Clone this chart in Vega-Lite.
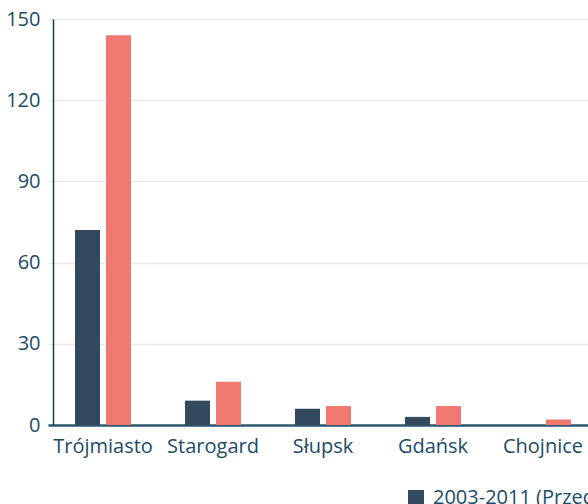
{
  "$schema": "https://vega.github.io/schema/vega-lite/v6.json",
  "autosize": "none",
  "padding": {"left": 53, "top": 19, "right": 0, "bottom": 79},
  "width": 535,
  "height": 406,
  "background": "#ffffff",
  "data": {
    "values": [
      {"miasto": "Trójmiasto", "okres": "2003-2011 (Przed reformą)", "liczba": 72},
      {"miasto": "Trójmiasto", "okres": "2012-2020 (Po reformie)", "liczba": 144},
      {"miasto": "Starogard", "okres": "2003-2011 (Przed reformą)", "liczba": 9},
      {"miasto": "Starogard", "okres": "2012-2020 (Po reformie)", "liczba": 16},
      {"miasto": "Słupsk", "okres": "2003-2011 (Przed reformą)", "liczba": 6},
      {"miasto": "Słupsk", "okres": "2012-2020 (Po reformie)", "liczba": 7},
      {"miasto": "Gdańsk", "okres": "2003-2011 (Przed reformą)", "liczba": 3},
      {"miasto": "Gdańsk", "okres": "2012-2020 (Po reformie)", "liczba": 7},
      {"miasto": "Chojnice", "okres": "2003-2011 (Przed reformą)", "liczba": 0},
      {"miasto": "Chojnice", "okres": "2012-2020 (Po reformie)", "liczba": 2}
    ]
  },
  "mark": {"type": "bar"},
  "encoding": {
    "x": {
      "field": "miasto",
      "type": "nominal",
      "sort": null,
      "title": null,
      "scale": {"range": [-5, 545], "paddingInner": 0, "paddingOuter": 0},
      "axis": {
        "labelAngle": 0,
        "labelFont": "Open Sans",
        "labelFontSize": 20,
        "labelColor": "#1d4b66",
        "labelPadding": 11,
        "ticks": false,
        "domainColor": "#2b5870",
        "domainWidth": 2.5,
        "grid": false
      }
    },
    "xOffset": {
      "field": "okres",
      "type": "nominal",
      "scale": {"paddingInner": 0.1935, "paddingOuter": 0.871}
    },
    "y": {
      "field": "liczba",
      "type": "quantitative",
      "title": null,
      "scale": {"domain": [0, 150]},
      "axis": {
        "values": [0, 30, 60, 90, 120, 150],
        "labelFont": "Open Sans",
        "labelFontSize": 20,
        "labelColor": "#1d4b66",
        "labelPadding": 13,
        "ticks": false,
        "domainColor": "#163d52",
        "domainWidth": 1.5,
        "gridColor": "#e8e8e8",
        "gridWidth": 1.5
      }
    },
    "color": {
      "field": "okres",
      "type": "nominal",
      "title": null,
      "scale": {"range": ["#34495e", "#ef7870"]},
      "legend": {
        "orient": "none",
        "direction": "horizontal",
        "legendX": 353,
        "legendY": 469,
        "symbolType": "square",
        "symbolSize": 256,
        "symbolOpacity": 1,
        "symbolStrokeWidth": 0,
        "labelFont": "Open Sans",
        "labelFontSize": 20,
        "labelColor": "#1d4b66",
        "labelOffset": 7,
        "labelLimit": 1000,
        "columnPadding": 30
      }
    }
  },
  "config": {"view": {"stroke": null}}
}
